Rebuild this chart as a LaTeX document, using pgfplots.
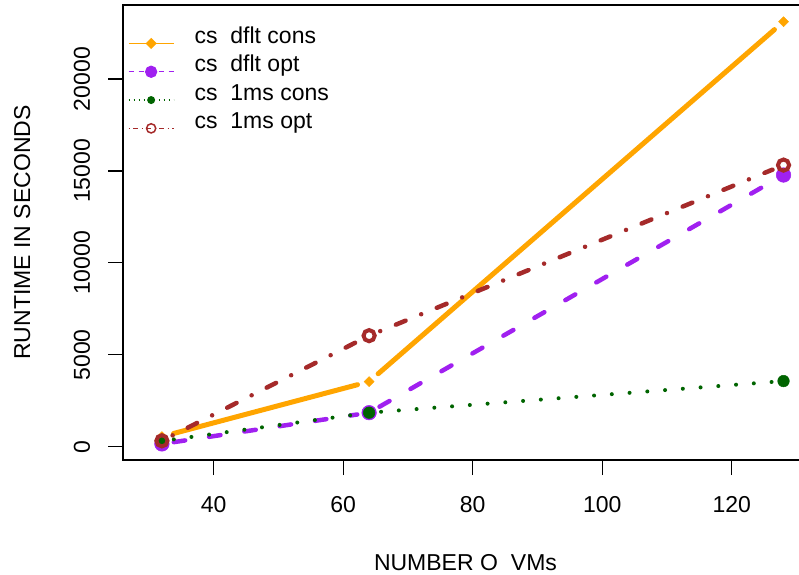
\documentclass[border=0pt]{standalone}
\usepackage{pgfplots}
\pgfplotsset{compat=1.18}
\usepackage{fontspec}
\setmainfont{Liberation Sans}
\definecolor{Rorange}{RGB}{255,165,0}
\definecolor{Rpurple}{RGB}{160,32,240}
\definecolor{Rgreen}{RGB}{0,100,0}
\definecolor{Rbrown}{RGB}{165,42,42}
\begin{document}
\fontsize{23bp}{27bp}\selectfont
\begin{tikzpicture}
\useasboundingbox (0,0) rectangle (799bp,575bp);
\begin{axis}[
  at={(123bp,115bp)}, anchor=south west,
  scale only axis, width=685bp, height=455bp,
  xmin=25.99, xmax=131.78, ymin=-724, ymax=24030,
  xtick={40,60,80,100,120}, ytick={0,5000,10000,15000,20000},
  scaled y ticks=false, scaled x ticks=false,
  xtick pos=bottom, ytick pos=left,
  tick align=outside, major tick length=15bp,
  axis line style={line width=1.2bp}, tick style={line width=1.2bp, black},
  /pgf/number format/assume math mode=true,
  /pgf/number format/1000 sep={},
  xticklabel style={anchor=north, inner sep=0pt},
  xticklabel shift=21.7bp,
  yticklabel style={rotate=90, anchor=south, inner sep=0pt},
  yticklabel shift=17.8bp,
  xlabel={NUMBER O\hspace{13bp}VMs},
  ylabel={RUNTIME IN SECONDS},
  x label style={at={(axis description cs:0.5,-0.24176)}, anchor=base, inner sep=0pt},
  y label style={at={(axis description cs:-0.1355,0.5)}, rotate=0, anchor=base, inner sep=0pt},
  clip=false,
  legend image code/.code={
    \path[draw=none, fill=none] (0bp,0bp) -- (66bp,0bp);
    \draw[mark repeat=2, mark phase=2] plot coordinates {(0bp,0bp) (22.5bp,0bp) (45bp,0bp)};
  },
  legend style={draw=none, fill=none, inner sep=0pt, outer sep=0pt,
    at={(axis description cs:0.0073,0.955)}, anchor=north west,
    row sep=0pt, column sep=0pt,
    nodes={inner sep=0pt, text height=18bp, text depth=10.3bp, anchor=base west}},
  legend cell align=left,
]
\addlegendimage{color=Rorange, line width=1.3bp, solid, mark=square*, mark size=3.3bp, mark options={rotate=45, solid}}
\addlegendentry{cs\ \ dflt cons}
\addlegendimage{color=Rpurple, line width=1.3bp, dash pattern=on 5bp off 5bp, mark=*, mark size=5.5bp, mark options={solid}}
\addlegendentry{cs\ \ dflt opt}
\addlegendimage{color=Rgreen, line width=1.3bp, dash pattern=on 1bp off 4bp, mark=*, mark size=3.3bp, mark options={solid}}
\addlegendentry{cs\ \ 1ms cons}
\addlegendimage{color=Rbrown, line width=1.3bp, dash pattern=on 1bp off 3.5bp on 5bp off 3.5bp, mark=o, mark size=4.6bp, mark options={solid, line width=1.5bp}}
\addlegendentry{cs\ \ 1ms opt}

% cs dflt cons
\addplot[forget plot, Rorange, line width=5bp, line cap=round, shorten <=12bp, shorten >=12bp] coordinates {(32,550) (64,3540)};
\addplot[forget plot, Rorange, line width=5bp, line cap=round, shorten <=12bp, shorten >=12bp] coordinates {(64,3540) (128,23120)};
\addplot[forget plot, only marks, mark=square*, mark size=3.5bp, mark options={rotate=45, fill=Rorange, draw=Rorange, line width=0.5bp}] coordinates {(32,550) (64,3540) (128,23120)};
% cs dflt opt
\addplot[forget plot, Rpurple, line width=4.5bp, line cap=round, dash pattern=on 11.5bp off 24.2bp, shorten <=12bp, shorten >=12bp] coordinates {(32,150) (64,1850)};
\addplot[forget plot, Rpurple, line width=4.5bp, line cap=round, dash pattern=on 11.5bp off 24.2bp, shorten <=12bp, shorten >=12bp] coordinates {(64,1850) (128,14780)};
\addplot[forget plot, only marks, mark=*, mark size=7.3bp, mark options={fill=Rpurple, draw=Rpurple, line width=0.5bp}] coordinates {(32,150) (64,1850) (128,14780)};
% cs 1ms cons
\addplot[forget plot, Rgreen, line width=4bp, line cap=round, dash pattern=on 0bp off 17.8bp, shorten <=12bp, shorten >=12bp] coordinates {(32,310) (64,1850)};
\addplot[forget plot, Rgreen, line width=4bp, line cap=round, dash pattern=on 0bp off 17.8bp, shorten <=12bp, shorten >=12bp] coordinates {(64,1850) (128,3570)};
\addplot[forget plot, only marks, mark=*, mark size=5.8bp, mark options={fill=Rgreen, draw=Rgreen, line width=0.5bp}] coordinates {(32,310) (64,1850) (128,3570)};
% cs 1ms opt
\addplot[forget plot, Rbrown, line width=4.5bp, line cap=round, dash pattern=on 0bp off 16.9bp on 10.5bp off 16.9bp, shorten <=12bp, shorten >=12bp] coordinates {(32,320) (64,6040)};
\addplot[forget plot, Rbrown, line width=4.5bp, line cap=round, dash pattern=on 0bp off 16.9bp on 10.5bp off 16.9bp, shorten <=12bp, shorten >=12bp] coordinates {(64,6040) (128,15320)};
\addplot[forget plot, only marks, mark=o, mark size=5.6bp, mark options={draw=Rbrown, line width=4bp}] coordinates {(32,320) (64,6040) (128,15320)};
\end{axis}
\end{tikzpicture}
\end{document}
